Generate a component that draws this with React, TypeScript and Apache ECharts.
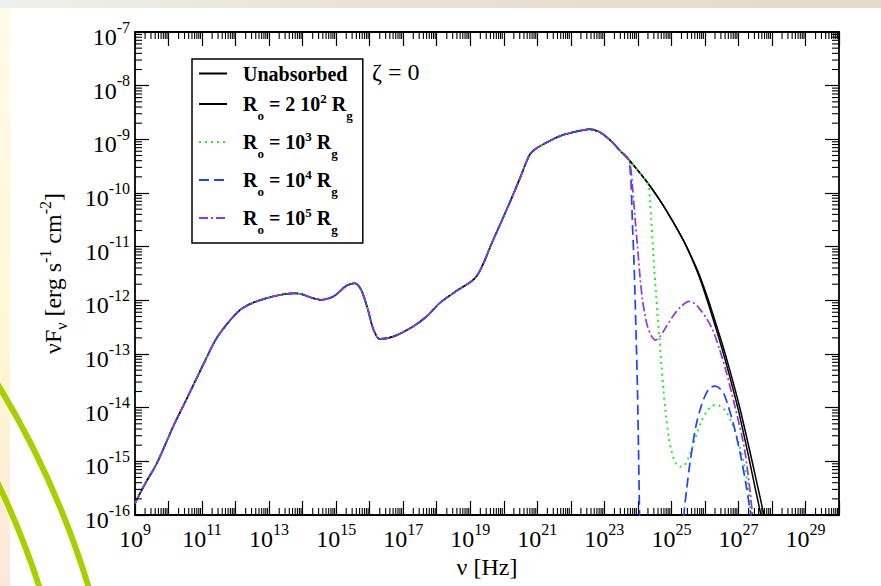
import React, { useEffect, useRef } from 'react';
import * as echarts from 'echarts';

const FONT = "'Liberation Serif', 'Times New Roman', 'DejaVu Serif', serif";

// Axis ranges (log10 decades) and tick labels
const X_MIN_EXP = 9;
const X_MAX_EXP = 30;
const Y_MIN_EXP = -16;
const Y_MAX_EXP = -7;
const xLabelExps = [9, 11, 13, 15, 17, 19, 21, 23, 25, 27, 29];
const yLabelExps = [-16, -15, -14, -13, -12, -11, -10, -9, -8, -7];
const minorMantissas = [2, 3, 4, 5, 6, 7, 8, 9];

// Series names and legend texts
const seriesNames = ['Unabsorbed', 'R0 = 2e2 Rg', 'R0 = 1e3 Rg', 'R0 = 1e4 Rg', 'R0 = 1e5 Rg'];
const legendTexts = [
  '{u|Unabsorbed}',
  '{m|R}{sb|o}{m| = 2 10}{sp|2}{m| R}{sb|g}',
  '{m|R}{sb|o}{m| = 10}{sp|3}{m| R}{sb|g}',
  '{m|R}{sb|o}{m| = 10}{sp|4}{m| R}{sb|g}',
  '{m|R}{sb|o}{m| = 10}{sp|5}{m| R}{sb|g}',
];

// Shared part of the SED (log10 nu [Hz], log10 nuFnu [erg s-1 cm-2])
const sharedLogNu = [9.0, 9.3, 9.65, 10.14, 10.5, 10.84, 11.15, 11.43, 11.8, 12.13, 12.5, 12.92, 13.32, 13.72, 14.0, 14.21, 14.56, 14.91, 15.1, 15.3, 15.55, 15.75, 15.95, 16.1, 16.3, 16.69, 17.29, 17.7, 18.09, 18.6, 19.18, 19.68, 20.17, 20.5, 20.77, 20.97, 21.4, 21.76, 22.2, 22.55, 22.85, 23.2, 23.45, 23.72];
const sharedLogF = [-15.78, -15.42, -15.04, -14.35, -13.89, -13.45, -13.05, -12.71, -12.4, -12.18, -12.05, -11.96, -11.9, -11.87, -11.89, -11.94, -11.99, -11.93, -11.84, -11.73, -11.68, -11.81, -12.18, -12.52, -12.72, -12.68, -12.49, -12.3, -12.05, -11.82, -11.56, -10.88, -10.19, -9.7, -9.29, -9.17, -9.02, -8.92, -8.85, -8.81, -8.86, -9.03, -9.2, -9.37];

// High-energy tails
const unabsLogNu = [24.0, 24.34, 24.64, 24.94, 25.2, 25.43, 25.65, 25.83, 26.08, 26.3, 26.52, 26.72, 27.0, 27.3, 27.55, 27.76, 27.85];
const unabsLogF = [-9.58, -9.85, -10.12, -10.42, -10.7, -10.97, -11.26, -11.52, -11.95, -12.38, -12.82, -13.25, -13.9, -14.7, -15.4, -16.0, -16.3];

const r2e2LogNu = [24.0, 24.34, 24.64, 24.94, 25.2, 25.43, 25.65, 25.83, 26.08, 26.3, 26.52, 26.72, 27.0, 27.3, 27.5, 27.67, 27.75];
const r2e2LogF = [-9.58, -9.85, -10.12, -10.42, -10.7, -10.97, -11.28, -11.56, -12.02, -12.46, -12.92, -13.37, -14.05, -14.9, -15.5, -16.0, -16.3];

const r1e3LogNu = [24.0, 24.3, 24.36, 24.4, 24.45, 24.49, 24.54, 24.59, 24.65, 24.7, 24.76, 24.84, 24.92, 25.02, 25.12, 25.25, 25.38, 25.5, 25.62, 25.75, 25.9, 26.05, 26.18, 26.3, 26.45, 26.63, 26.78, 26.92, 27.05, 27.17, 27.28, 27.37, 27.42];
const r1e3LogF = [-9.58, -9.83, -10.15, -10.5, -11.0, -11.43, -11.85, -12.3, -12.75, -13.2, -13.65, -14.15, -14.55, -14.85, -15.02, -15.1, -15.08, -14.95, -14.75, -14.5, -14.25, -14.08, -13.98, -13.95, -13.97, -14.07, -14.25, -14.48, -14.75, -15.04, -15.45, -16.0, -16.3];

const r1e4LogNu = [23.76, 23.8, 23.84, 23.88, 23.91, 23.95, 23.99, 24.02, 24.04, 24.05, 24.07, 24.7, 25.32, 25.38, 25.46, 25.55, 25.73, 25.9, 26.05, 26.18, 26.3, 26.42, 26.55, 26.67, 26.87, 27.07, 27.22, 27.34, 27.38, 27.42];
const r1e4LogF: (number | null)[] = [-9.5, -9.85, -10.6, -11.2, -11.8, -12.7, -13.7, -14.8, -15.6, -16.0, -16.6, null, -16.6, -15.95, -15.5, -15.05, -14.35, -13.95, -13.72, -13.62, -13.6, -13.63, -13.72, -13.92, -14.35, -14.91, -15.41, -15.88, -16.0, -16.3];

const r1e5LogNu = [23.78, 23.84, 23.92, 23.99, 24.07, 24.14, 24.22, 24.29, 24.4, 24.53, 24.65, 24.79, 25.04, 25.28, 25.53, 25.7, 25.83, 26.03, 26.23, 26.43, 26.63, 26.92, 27.17, 27.32, 27.42, 27.46];
const r1e5LogF = [-9.5, -9.88, -10.5, -11.0, -11.6, -12.0, -12.3, -12.49, -12.66, -12.74, -12.68, -12.55, -12.3, -12.12, -12.02, -12.06, -12.15, -12.32, -12.55, -12.9, -13.32, -14.04, -14.73, -15.41, -16.0, -16.3];

const seriesColors = ['#000000', '#000000', '#22ee22', '#1a44ff', '#9933dd'];

function pairs(nu: number[], f: (number | null)[]) {
  return nu.map((n, i) => [n, f[i] === null ? null : f[i]]);
}

function buildOption() {
  const shared = pairs(sharedLogNu, sharedLogF);
  const tails = [
    pairs(unabsLogNu, unabsLogF),
    pairs(r2e2LogNu, r2e2LogF),
    pairs(r1e3LogNu, r1e3LogF),
    pairs(r1e4LogNu, r1e4LogF),
    pairs(r1e5LogNu, r1e5LogF),
  ];
  const dashTypes: any[] = ['solid', 'solid', [2, 4], [10, 5], [9, 3, 2, 3]];
  const widths = [1.5, 1.5, 2, 1.7, 1.7];

  const lineSeries = seriesNames.map((name, i) => ({
    type: 'line',
    name,
    data: shared.concat(tails[i]),
    xAxisIndex: 0,
    yAxisIndex: 0,
    symbol: 'none',
    showSymbol: false,
    smooth: 0.3,
    clip: true,
    connectNulls: false,
    silent: true,
    lineStyle: { color: seriesColors[i], width: widths[i], type: dashTypes[i] },
    itemStyle: { color: seriesColors[i] },
    z: 3 + i,
  }));

  const xMinor: number[][] = [];
  for (let e = X_MIN_EXP; e < X_MAX_EXP; e++) {
    minorMantissas.forEach((m) => xMinor.push([e + Math.log10(m), Y_MIN_EXP]));
  }
  const yMinor: number[][] = [];
  for (let e = Y_MIN_EXP; e < Y_MAX_EXP; e++) {
    minorMantissas.forEach((m) => yMinor.push([X_MIN_EXP, e + Math.log10(m)]));
  }
  const minorLen = 7;
  const tickStyle = { stroke: '#000', lineWidth: 1.1 };

  const xMinorSeries = {
    type: 'custom',
    name: 'xminor',
    silent: true,
    clip: false,
    z: 10,
    data: xMinor,
    renderItem: (params: any, api: any) => {
      const x = api.coord([api.value(0), Y_MIN_EXP])[0];
      const cs = params.coordSys;
      return {
        type: 'group',
        children: [
          { type: 'line', shape: { x1: x, y1: cs.y + cs.height, x2: x, y2: cs.y + cs.height - minorLen }, style: tickStyle },
          { type: 'line', shape: { x1: x, y1: cs.y, x2: x, y2: cs.y + minorLen }, style: tickStyle },
        ],
      };
    },
  };
  const yMinorSeries = {
    type: 'custom',
    name: 'yminor',
    silent: true,
    clip: false,
    z: 10,
    data: yMinor,
    renderItem: (params: any, api: any) => {
      const y = api.coord([X_MIN_EXP, api.value(1)])[1];
      const cs = params.coordSys;
      return {
        type: 'group',
        children: [
          { type: 'line', shape: { x1: cs.x, y1: y, x2: cs.x + minorLen, y2: y }, style: tickStyle },
          { type: 'line', shape: { x1: cs.x + cs.width, y1: y, x2: cs.x + cs.width - minorLen, y2: y }, style: tickStyle },
        ],
      };
    },
  };

  const axisLine = { show: true, onZero: false, lineStyle: { color: '#000', width: 1.8 } };
  const axisTick = { show: true, inside: true, length: 14, lineStyle: { color: '#000', width: 1.2 } };
  const expOf = (v: number) => Math.round(v);

  const xRich = {
    b: { fontFamily: FONT, fontSize: 24, lineHeight: 30, verticalAlign: 'middle', color: '#000' },
    s: { fontFamily: FONT, fontSize: 16, lineHeight: 30, verticalAlign: 'middle', padding: [0, 0, 20, 0], color: '#000' },
  };
  const yRich = {
    b: { fontFamily: FONT, fontSize: 24, lineHeight: 30, verticalAlign: 'middle', padding: [10, 0, 0, 0], color: '#000' },
    s: { fontFamily: FONT, fontSize: 16, lineHeight: 30, verticalAlign: 'middle', padding: [0, 0, 10, 0], color: '#000' },
  };

  const legendRich = {
    u: { fontFamily: FONT, fontSize: 20, fontWeight: 'bold', lineHeight: 19, verticalAlign: 'middle', color: '#000' },
    m: { fontFamily: FONT, fontSize: 20, fontWeight: 'bold', lineHeight: 35, verticalAlign: 'middle', color: '#000' },
    sb: { fontFamily: FONT, fontSize: 13, fontWeight: 'bold', lineHeight: 35, verticalAlign: 'middle', padding: [22, 0, 0, 0], color: '#000' },
    sp: { fontFamily: FONT, fontSize: 13, fontWeight: 'bold', lineHeight: 35, verticalAlign: 'middle', padding: [0, 0, 12, 0], color: '#000' },
  };

  const nameRich = {
    n: { fontFamily: FONT, fontSize: 24, lineHeight: 32, verticalAlign: 'middle', color: '#000' },
    nb: { fontFamily: FONT, fontSize: 16, lineHeight: 32, verticalAlign: 'middle', padding: [16, 0, 0, 0], color: '#000' },
    np: { fontFamily: FONT, fontSize: 16, lineHeight: 32, verticalAlign: 'middle', padding: [0, 0, 16, 0], color: '#000' },
  };

  const xAxisBase = {
    type: 'value',
    min: X_MIN_EXP,
    max: X_MAX_EXP,
    interval: 1,
    axisLine,
    axisTick,
    splitLine: { show: false },
  };
  const yAxisBase = {
    type: 'value',
    min: Y_MIN_EXP,
    max: Y_MAX_EXP,
    interval: 1,
    axisLine,
    axisTick,
    splitLine: { show: false },
  };

  return {
    animation: false,
    backgroundColor: '#ffffff',
    grid: { left: 135, right: 42, top: 32, bottom: 71, containLabel: false, outerBoundsMode: 'none' },
    legend: {
      data: seriesNames,
      orient: 'vertical',
      left: 192,
      top: 59,
      itemWidth: 28,
      itemHeight: 14,
      itemGap: 3,
      padding: [4.5, 10, 7.5, 6],
      borderColor: '#000',
      borderWidth: 1.5,
      borderRadius: 0,
      backgroundColor: '#ffffff',
      selectedMode: false,
      itemStyle: { color: 'rgba(0,0,0,0)', borderWidth: 0, opacity: 0 },
      formatter: (name: string) => legendTexts[seriesNames.indexOf(name)],
      textStyle: { fontFamily: FONT, fontSize: 20, fontWeight: 'bold', color: '#000', padding: [0, 0, 0, 11], rich: legendRich },
    },
    xAxis: [
      {
        ...xAxisBase,
        position: 'bottom',
        name: 'ν [Hz]',
        nameLocation: 'middle',
        nameGap: 40,
        nameMoveOverlap: false,
        nameTextStyle: { fontFamily: FONT, fontSize: 24, color: '#000' },
        axisLabel: {
          show: true,
          margin: 9,
          showMinLabel: true,
          showMaxLabel: true,
          formatter: (v: number) => {
            const e = expOf(v);
            return xLabelExps.includes(e) ? `{b|10}{s|${e}}` : '';
          },
          rich: xRich,
        },
      },
      { ...xAxisBase, position: 'top', axisLabel: { show: false } },
    ],
    yAxis: [
      {
        ...yAxisBase,
        position: 'left',
        name: '{n|νF}{nb|ν}{n| [erg s}{np|-1}{n| cm}{np|-2}{n|]}',
        nameLocation: 'middle',
        nameRotate: 90,
        nameGap: 66,
        nameMoveOverlap: false,
        nameTextStyle: { fontFamily: FONT, fontSize: 24, color: '#000', rich: nameRich },
        axisLabel: {
          show: true,
          margin: 5,
          showMinLabel: true,
          showMaxLabel: true,
          formatter: (v: number) => {
            const e = expOf(v);
            return yLabelExps.includes(e) ? `{b|10}{s|${e}}` : '';
          },
          rich: yRich,
        },
      },
      { ...yAxisBase, position: 'right', axisLabel: { show: false } },
    ],
    graphic: [
      {
        type: 'rect',
        z: -10,
        silent: true,
        shape: { x: 0, y: 0, width: 881, height: 8 },
        style: {
          fill: new echarts.graphic.LinearGradient(0, 0, 1, 0, [
            { offset: 0, color: '#efefef' },
            { offset: 0.4, color: '#e9e3d6' },
            { offset: 1, color: '#e3dac8' },
          ]),
        },
      },
      {
        type: 'rect',
        z: -10,
        silent: true,
        shape: { x: 0, y: 8, width: 10, height: 578 },
        style: {
          fill: new echarts.graphic.LinearGradient(0, 0, 0, 1, [
            { offset: 0, color: '#fffbe8' },
            { offset: 0.6, color: '#fff6d2' },
            { offset: 1, color: '#fbe8da' },
          ]),
        },
      },
      {
        type: 'arc',
        z: -9,
        silent: true,
        shape: { cx: -758, cy: 845, r: 885, startAngle: -0.6, endAngle: -0.25 },
        style: { stroke: '#a8d000', lineWidth: 6, fill: 'none' },
      },
      {
        type: 'arc',
        z: -9,
        silent: true,
        shape: { cx: -758, cy: 845, r: 838, startAngle: -0.5, endAngle: -0.2 },
        style: { stroke: '#a8d000', lineWidth: 6, fill: 'none' },
      },
      {
        type: 'text',
        z: 20,
        silent: true,
        x: 372,
        y: 72,
        style: { text: 'ζ = 0', fontFamily: FONT, fontSize: 24, fill: '#000', verticalAlign: 'middle', align: 'left' },
      },
    ],
    series: [...lineSeries, xMinorSeries, yMinorSeries],
  };
}

export default function App() {
  const ref = useRef<HTMLDivElement>(null);
  useEffect(() => {
    if (!ref.current) return;
    const chart = echarts.init(ref.current, null, { renderer: 'svg' });
    chart.setOption(buildOption() as any);
    return () => chart.dispose();
  }, []);
  return (
    <div
      ref={ref}
      style={{ position: 'fixed', left: 0, top: 0, width: 881, height: 586, background: '#fff' }}
    />
  );
}
